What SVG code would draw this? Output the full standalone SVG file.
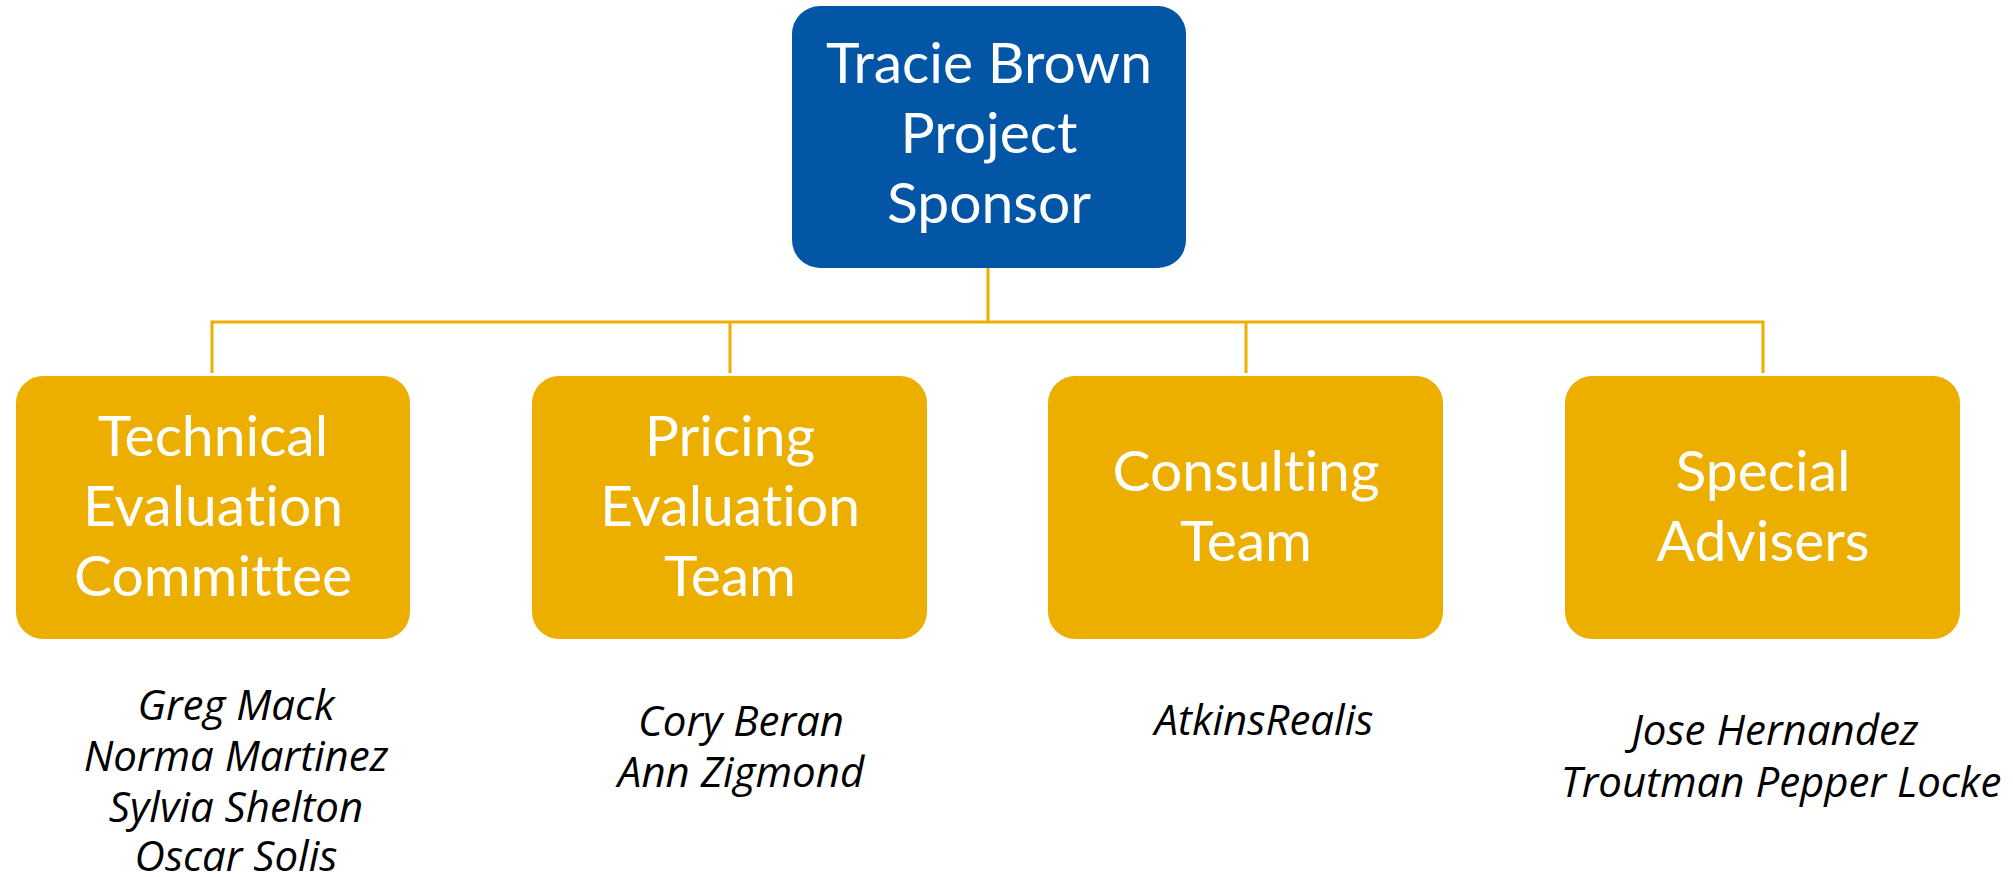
<svg xmlns="http://www.w3.org/2000/svg" width="2013" height="877" viewBox="0 0 2013 877">
<style>
.bg{fill:#ffffff}
.top{fill:#0256A5}
.team{fill:#ECAF00}
.lbl{font-family:Lato,"Open Sans","Liberation Sans",sans-serif;font-size:57px;fill:#ffffff;text-anchor:middle;font-variant-ligatures:none}
.name{font-family:"Open Sans","Noto Sans","Liberation Sans",sans-serif;font-style:italic;font-size:42px;fill:#000000;text-anchor:middle}
.conn{stroke:#ECAF00;stroke-width:3;fill:none}
</style>
<rect class="bg" x="0" y="0" width="2013" height="877"/>
<g id="connectors">
<path class="conn" d="M988 268 V322"/>
<path class="conn" d="M212 373 V322 H1763 V373"/>
<path class="conn" d="M730 322 V373"/>
<path class="conn" d="M1246 322 V373"/>
</g>
<g id="sponsor">
<rect class="top" x="792" y="6" width="394" height="262" rx="28"/>
<text class="lbl" x="989" y="83">Tracie Brown</text>
<text class="lbl" x="989" y="153">Project</text>
<text class="lbl" x="989" y="223">Sponsor</text>
</g>
<g id="technical">
<rect class="team" x="16" y="376" width="394" height="263" rx="27"/>
<text class="lbl" x="213" y="456">Technical</text>
<text class="lbl" x="213" y="526">Evaluation</text>
<text class="lbl" x="213" y="596">Committee</text>
</g>
<g id="pricing">
<rect class="team" x="532" y="376" width="395" height="263" rx="27"/>
<text class="lbl" x="730" y="456">Pricing</text>
<text class="lbl" x="730" y="526">Evaluation</text>
<text class="lbl" x="730" y="596">Team</text>
</g>
<g id="consulting">
<rect class="team" x="1048" y="376" width="395" height="263" rx="27"/>
<text class="lbl" x="1246" y="491">Consulting</text>
<text class="lbl" x="1246" y="561">Team</text>
</g>
<g id="special">
<rect class="team" x="1565" y="376" width="395" height="263" rx="27"/>
<text class="lbl" x="1763" y="491">Special</text>
<text class="lbl" x="1763" y="561">Advisers</text>
</g>
<g id="technical-members">
<text class="name" x="236" y="720">Greg Mack</text>
<text class="name" x="236" y="771">Norma Martinez</text>
<text class="name" x="236" y="822">Sylvia Shelton</text>
<text class="name" x="236" y="871">Oscar Solis</text>
</g>
<g id="pricing-members">
<text class="name" x="741" y="736">Cory Beran</text>
<text class="name" x="741" y="787">Ann Zigmond</text>
</g>
<g id="consulting-members">
<text class="name" x="1264" y="735">AtkinsRealis</text>
</g>
<g id="special-members">
<text class="name" x="1775" y="745">Jose Hernandez</text>
<text class="name" x="1781" y="797">Troutman Pepper Locke</text>
</g>
</svg>
